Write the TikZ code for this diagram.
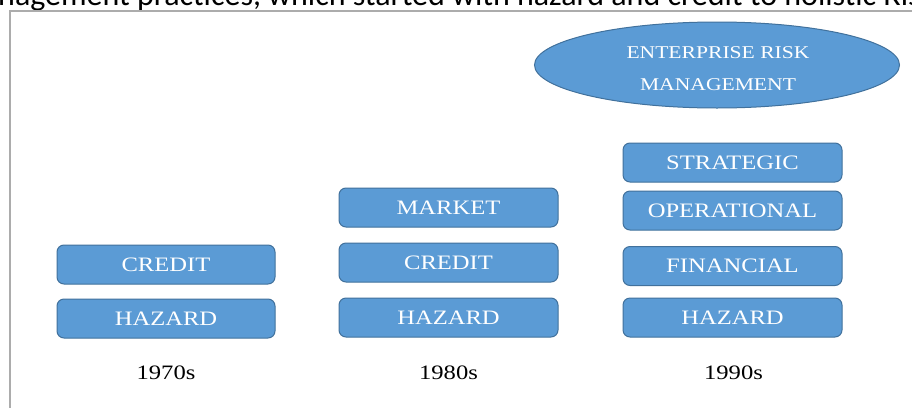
\documentclass[tikz,border=0pt]{standalone}
\usepackage{fontspec}
\setmainfont{Liberation Serif}
\newfontfamily\calib{Carlito}
\usepackage{graphicx}
\usetikzlibrary{shapes.geometric}
\definecolor{boxfill}{HTML}{5B9BD5}
\definecolor{boxline}{HTML}{41719C}
\newcommand{\stretchtxt}[1]{\scalebox{1.2}[1]{#1}}
\tikzset{
  riskbox/.style={rectangle, rounded corners=7pt, draw=boxline, line width=1pt,
    fill=boxfill, minimum width=218pt, minimum height=39pt, inner sep=0pt,
    text=white, font=\fontsize{20.5}{22}\selectfont},
  yearlabel/.style={inner sep=0pt, text=black, font=\fontsize{20.5}{22}\selectfont},
  ermshape/.style={ellipse, draw=boxline, line width=1pt, fill=boxfill,
    minimum width=365pt, minimum height=86pt, inner sep=0pt},
  ermtextstyle/.style={inner sep=0pt, text=white, align=center,
    font=\fontsize{18}{31.5}\selectfont},
  frameline/.style={draw=gray!65, line width=1.5pt}
}
\begin{document}
\begin{tikzpicture}[x=1pt,y=-1pt]
\clip (0,0) rectangle (912,407);
\fill[white] (0,0) rectangle (912,407);
% cut-off running text above the figure
\node[anchor=base west, inner sep=0pt, font=\calib\fontsize{32}{32}\selectfont] (intro) at (-2,5.5)
  {nagement practices, which started with hazard and credit to holistic Risk};
% frame
\coordinate (fbl) at (10,410);
\coordinate (ftl) at (10,11);
\coordinate (ftr) at (915,11);
\draw[frameline] (fbl) -- (ftl) -- (ftr);
% ERM ellipse
\node[ermshape] (erm) at (717,65) {};
\node[ermtextstyle] (ermtext) at (718,68.5) {\stretchtxt{ENTERPRISE RISK}\\\stretchtxt{MANAGEMENT}};
% 1970s
\node[riskbox] (c1) at (166,264.5) {\stretchtxt{CREDIT}};
\node[riskbox] (h1) at (166,318.5) {\stretchtxt{HAZARD}};
\node[yearlabel] (y1) at (166,373) {\stretchtxt{1970s}};
% 1980s
\node[riskbox, minimum width=219pt] (m2) at (448.5,207.5) {\stretchtxt{MARKET}};
\node[riskbox, minimum width=219pt] (c2) at (448.5,262.5) {\stretchtxt{CREDIT}};
\node[riskbox, minimum width=219pt] (h2) at (448.5,317.5) {\stretchtxt{HAZARD}};
\node[yearlabel] (y2) at (448.5,373) {\stretchtxt{1980s}};
% 1990s
\node[riskbox, minimum width=219pt] (s3) at (732.5,162.5) {\stretchtxt{STRATEGIC}};
\node[riskbox, minimum width=219pt] (o3) at (732.5,210.5) {\stretchtxt{OPERATIONAL}};
\node[riskbox, minimum width=219pt] (f3) at (732.5,266) {\stretchtxt{FINANCIAL}};
\node[riskbox, minimum width=219pt] (h3) at (732.5,317.5) {\stretchtxt{HAZARD}};
\node[yearlabel] (y3) at (733.5,373) {\stretchtxt{1990s}};
\end{tikzpicture}
\end{document}
